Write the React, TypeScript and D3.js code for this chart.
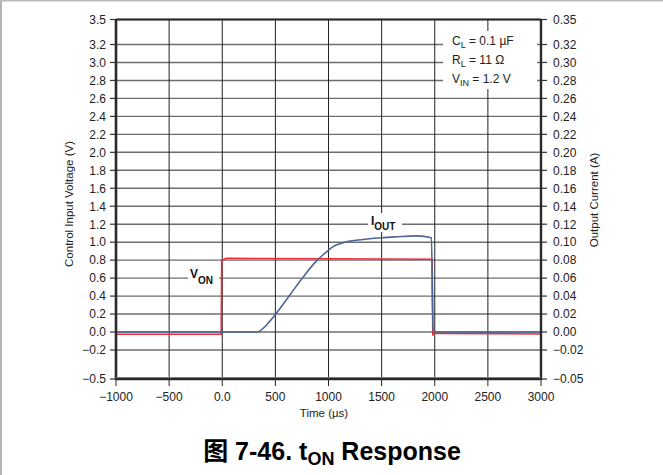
import React from "react";
import * as d3 from "d3";

const W = 663;
const H = 475;

const xTicks = [-1000, -500, 0, 500, 1000, 1500, 2000, 2500, 3000];
const xTickLabels = ["−1000", "−500", "0.0", "500", "1000", "1500", "2000", "2500", "3000"];
const vTicks = [-0.5, -0.2, 0, 0.2, 0.4, 0.6, 0.8, 1.0, 1.2, 1.4, 1.6, 1.8, 2.0, 2.2, 2.4, 2.6, 2.8, 3.0, 3.2, 3.5];
const iTicks = [-0.05, -0.02, 0, 0.02, 0.04, 0.06, 0.08, 0.1, 0.12, 0.14, 0.16, 0.18, 0.2, 0.22, 0.24, 0.26, 0.28, 0.3, 0.32, 0.35];

// V_ON (control input voltage, V)
const vonTime = [-1000, -10, -5, 40, 1000, 1975, 1982, 1986, 2050, 3000];
const vonValues = [-0.025, -0.025, 0.8, 0.82, 0.815, 0.81, -0.04, -0.017, -0.015, -0.022];

// I_OUT (output current, A)
const ioutTime = [-1000, 330, 384, 440, 510, 635, 760, 870, 949, 1000, 1043, 1100, 1153, 1325, 1500, 1640, 1828, 1969, 1984, 2016, 3000];
const ioutValues = [0, 0, 0.004, 0.011, 0.021, 0.041, 0.061, 0.077, 0.086, 0.091, 0.095, 0.098, 0.1, 0.103, 0.105, 0.106, 0.107, 0.105, 0.002, 0, 0];

const FONT = "'Liberation Sans', Arial, Helvetica, sans-serif";

const fmtV = (v: number) => (v < 0 ? "−" : "") + Math.abs(v).toFixed(1);
const fmtI = (v: number) => (v < 0 ? "−" : "") + Math.abs(v).toFixed(2);

export default function App() {
  const left = 116, right = 541, top = 19.5, bottom = 379;
  const x = d3.scaleLinear().domain([-1000, 3000]).range([left, right]);
  const yV = d3.scaleLinear().domain([-0.5, -0.2, 3.2, 3.5]).range([bottom, 350, 44.5, top]);
  const yI = d3.scaleLinear().domain([-0.05, -0.02, 0.32, 0.35]).range([bottom, 350, 44.5, top]);

  const vonLine = d3.line<number>().x((_, i) => x(vonTime[i])).y((d) => yV(d))(vonValues) || "";
  const ioutLine = d3.line<number>().x((_, i) => x(ioutTime[i])).y((d) => yI(d)).curve(d3.curveMonotoneX)(ioutValues) || "";

  return (
    <div style={{ position: "absolute", left: 0, top: 0 }}>
      <svg width={W} height={H} style={{ display: "block", fontFamily: FONT }}>
        <rect x={0} y={0} width={W} height={H} fill="#fff" />
        {/* outer border */}
        <line x1={1} y1={0} x2={1} y2={H} stroke="#999" strokeWidth={1.5} />
        <line x1={0} y1={0.75} x2={W} y2={0.75} stroke="#bbb" strokeWidth={1.5} />

        {/* horizontal grid + ticks */}
        {vTicks.map((v) => (
          <g key={"h" + v}>
            <line x1={left} x2={right} y1={yV(v)} y2={yV(v)} stroke="#6e6e6e" strokeWidth={1.4} />
            <line x1={left - 6} x2={left} y1={yV(v)} y2={yV(v)} stroke="#333" strokeWidth={1.2} />
            <line x1={right} x2={right + 6} y1={yV(v)} y2={yV(v)} stroke="#333" strokeWidth={1.2} />
          </g>
        ))}
        {/* vertical grid + ticks */}
        {xTicks.map((t) => (
          <g key={"v" + t}>
            <line x1={x(t)} x2={x(t)} y1={top} y2={bottom} stroke="#222" strokeWidth={1} />
            <line x1={x(t)} x2={x(t)} y1={bottom} y2={bottom + 7} stroke="#222" strokeWidth={1} />
          </g>
        ))}

        {/* white label backgrounds */}
        <rect x={443} y={31} width={94} height={58} fill="#fff" />
        <rect x={188} y={266} width={31} height={22} fill="#fff" />
        <rect x={368} y={213} width={34} height={19} fill="#fff" />

        {/* curves */}
        <path d={vonLine} fill="none" stroke="#ee2b38" strokeWidth={1.6} />
        <path d={ioutLine} fill="none" stroke="#4d6597" strokeWidth={1.6} />

        {/* frame */}
        <line x1={left} x2={left} y1={top} y2={bottom + 1} stroke="#2a2a2a" strokeWidth={2.6} />
        <line x1={right} x2={right} y1={top} y2={bottom + 1} stroke="#2a2a2a" strokeWidth={2.4} />
        <line x1={left} x2={right} y1={top} y2={top} stroke="#2a2a2a" strokeWidth={2.2} />
        <line x1={left} x2={right} y1={bottom - 1.2} y2={bottom - 1.2} stroke="#999" strokeWidth={1.5} />
        <line x1={left} x2={right} y1={bottom} y2={bottom} stroke="#2a2a2a" strokeWidth={2.4} />

        {/* tick labels */}
        {vTicks.map((v) => (
          <text key={"lv" + v} x={106} y={yV(v)} dy="0.36em" textAnchor="end" fontSize={12} fill="#222">
            {fmtV(v)}
          </text>
        ))}
        {iTicks.map((v) => (
          <text key={"li" + v} x={553} y={yI(v)} dy="0.36em" textAnchor="start" fontSize={12} fill="#222">
            {fmtI(v)}
          </text>
        ))}
        {xTicks.map((t, i) => (
          <text key={"lx" + t} x={x(t)} y={401} textAnchor="middle" fontSize={12} fill="#222">
            {xTickLabels[i]}
          </text>
        ))}

        {/* axis titles */}
        <text x={324} y={417} textAnchor="middle" fontSize={11.5} fill="#222">Time (µs)</text>
        <text transform={`translate(73,204) rotate(-90)`} textAnchor="middle" fontSize={11.5} fill="#222">
          Control Input Voltage (V)
        </text>
        <text transform={`translate(598,200) rotate(-90)`} textAnchor="middle" fontSize={11.5} fill="#222">
          Output Current (A)
        </text>

        {/* conditions */}
        <text x={452} y={45} fontSize={12} fill="#222">
          C<tspan fontSize={9} dy={3}>L</tspan><tspan dy={-3}> = 0.1 µF</tspan>
        </text>
        <text x={452} y={64} fontSize={12} fill="#222">
          R<tspan fontSize={9} dy={3}>L</tspan><tspan dy={-3}> = 11 Ω</tspan>
        </text>
        <text x={452} y={83} fontSize={12} fill="#222">
          V<tspan fontSize={9} dy={3}>IN</tspan><tspan dy={-3}> = 1.2 V</tspan>
        </text>

        {/* curve labels */}
        <text x={190} y={278} fontSize={12} fontWeight="bold" fill="#111">
          V<tspan fontSize={10} dy={6}>ON</tspan>
        </text>
        <text x={371} y={225} fontSize={12} fontWeight="bold" fill="#111">
          I<tspan fontSize={10} dy={5}>OUT</tspan>
        </text>

        {/* title */}
        <text x={332} y={460} textAnchor="middle" fontSize={25} fontWeight="bold" fill="#000"
          style={{ fontFamily: "'Liberation Sans', Arial, 'Noto Sans CJK SC', sans-serif" }}>
          图 7-46. t<tspan fontSize={18} dy={5}>ON</tspan><tspan dy={-5}> Response</tspan>
        </text>
      </svg>
    </div>
  );
}
